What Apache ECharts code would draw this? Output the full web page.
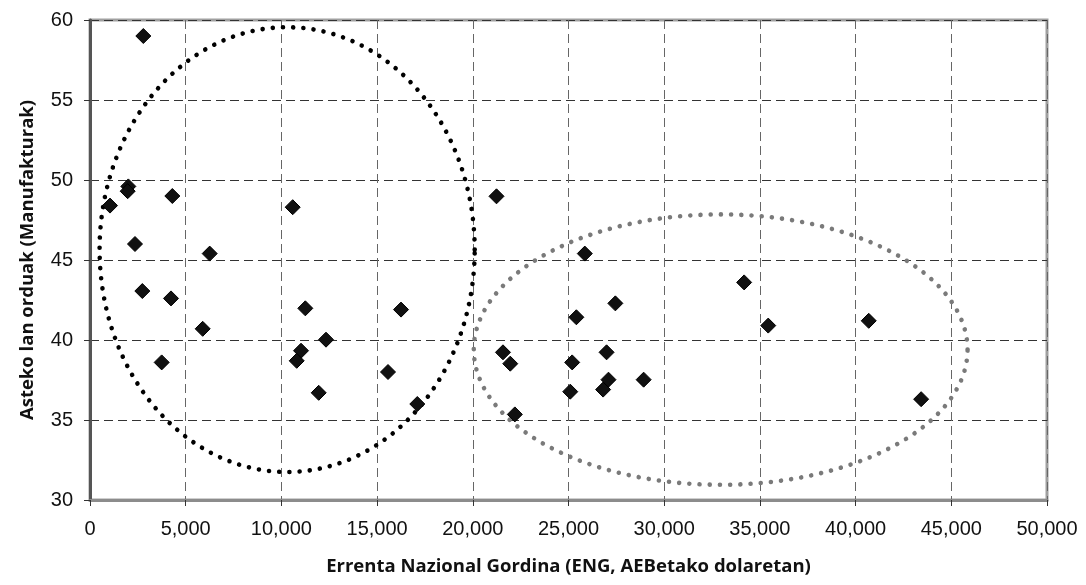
<!DOCTYPE html>
<html>
<head>
<meta charset="utf-8">
<script src="https://cdn.jsdelivr.net/npm/echarts@6/dist/echarts.min.js"></script>
<style>html,body{margin:0;padding:0;background:#fff}#c{width:1086px;height:585px}</style>
</head>
<body>
<div id="c"></div>
<script>
// Gross National Income (USD) per country
var gni = [2786, 2003, 1968, 1045, 4301, 10590, 2351, 6254,
  2734, 4232, 5887, 3745, 11250, 12331, 11025, 10800, 11949, 16250, 15570, 17100,
  21238, 25851, 34177, 27448, 25411, 35435, 40687, 21577, 21957, 26989, 25192, 27089, 28926, 26809, 25092, 22196, 43425];
// Weekly working hours (manufacturing)
var hours = [59.0, 49.6, 49.3, 48.4, 49.0, 48.3, 46.0, 45.4,
  43.06, 42.6, 40.7, 38.6, 41.98, 40.02, 39.33, 38.7, 36.7, 41.9, 38.0, 36.0,
  48.98, 45.4, 43.6, 42.29, 41.42, 40.9, 41.2, 39.23, 38.52, 39.23, 38.6, 37.52, 37.52, 36.9, 36.77, 35.35, 36.3];
// Annotation ellipses: [centerX, centerY, radiusX, radiusY]
var ellipseLeft = [10300, 45.65, 9800, 13.9];
var ellipseRight = [32950, 39.4, 12900, 8.45];

var points = gni.map(function (v, i) { return [v, hours[i]]; });

function ellipseRenderer(color) {
  return function (params, api) {
    var cx = api.value(0), cy = api.value(1), rx = api.value(2), ry = api.value(3);
    var pts = [];
    var n = 240;
    for (var k = 0; k <= n; k++) {
      var t = k / n * Math.PI * 2;
      pts.push(api.coord([cx + rx * Math.cos(t), cy + ry * Math.sin(t)]));
    }
    return {
      type: 'polyline',
      shape: { points: pts },
      style: { stroke: color, fill: null, lineWidth: 4.6, lineDash: [0.01, 10.2], lineCap: 'round' }
    };
  };
}

var chart = echarts.init(document.getElementById('c'));
chart.setOption({
  animation: false,
  grid: { left: 90, right: 39, top: 20, bottom: 85, show: true, borderColor: '#a0a0a0', borderWidth: 3 },
  xAxis: {
    type: 'value', min: 0, max: 50000, interval: 5000,
    name: 'Errenta Nazional Gordina (ENG, AEBetako dolaretan)',
    nameLocation: 'middle', nameGap: 57,
    nameTextStyle: { fontFamily: 'Open Sans', fontWeight: 'bold', fontSize: 18.5, color: '#111' },
    axisLine: { show: true, lineStyle: { color: '#8c8c8c', width: 3 } },
    axisTick: { show: true, length: 6, lineStyle: { color: '#333', width: 1 } },
    axisLabel: { margin: 19, fontFamily: 'Arial, "Liberation Sans", sans-serif', fontSize: 20, color: '#111',
      formatter: function (v) { return v.toLocaleString('en-US'); } },
    splitLine: { show: true, lineStyle: { color: '#666', type: [9, 5], width: 1 } }
  },
  yAxis: {
    type: 'value', min: 30, max: 60, interval: 5,
    name: 'Asteko lan orduak (Manufakturak)',
    nameLocation: 'middle', nameGap: 53, nameRotate: 90,
    nameTextStyle: { fontFamily: 'Open Sans', fontWeight: 'bold', fontSize: 18.5, color: '#111' },
    axisLine: { show: true, lineStyle: { color: '#555', width: 3 } },
    axisTick: { show: true, length: 6, lineStyle: { color: '#333', width: 1 } },
    axisLabel: { margin: 17, fontFamily: 'Arial, "Liberation Sans", sans-serif', fontSize: 20, color: '#111' },
    splitLine: { show: true, lineStyle: { color: '#333', type: [9, 5], width: 1 } }
  },
  series: [
    { type: 'custom', renderItem: ellipseRenderer('#000'), data: [ellipseLeft], z: 2, silent: true },
    { type: 'custom', renderItem: ellipseRenderer('#7a7a7a'), data: [ellipseRight], z: 2, silent: true },
    { type: 'scatter', data: points, symbol: 'diamond', symbolSize: 15, z: 5,
      itemStyle: { color: '#111', borderColor: '#000', borderWidth: 1, opacity: 1 } }
  ]
});
</script>
</body>
</html>
